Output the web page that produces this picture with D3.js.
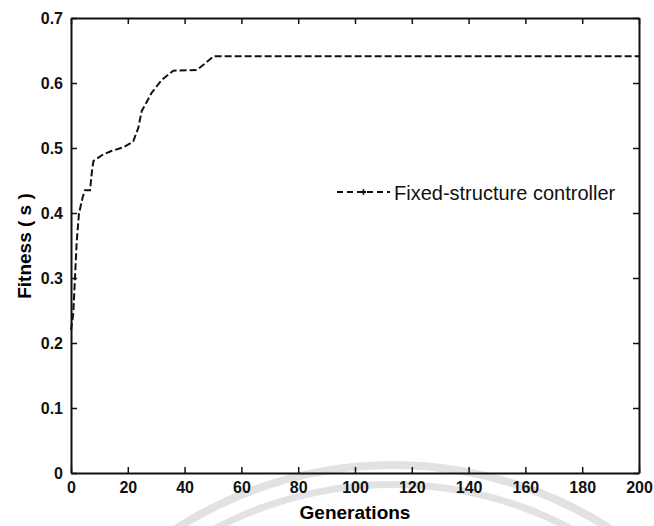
<!DOCTYPE html>
<html>
<head>
<meta charset="utf-8">
<script src="https://cdn.jsdelivr.net/npm/d3@7"></script>
<style>
	body { margin: 0; background: #fff; }
	.canvas { width: 654px; height: 526px; }
</style>
</head>
<body>
<div class="canvas"></div>
<script>
// data
var generations = [0, 0.8, 1.4, 2, 2.8, 4.1, 4.9, 6.7, 7.4, 7.9, 11.3, 14, 18.4, 21.9, 23.7, 24.9, 26.8, 28.4, 30.2, 32, 34.3, 36, 44.3, 47.5, 50.1, 200];
var fitness     = [0.22, 0.245, 0.30, 0.355, 0.399, 0.424, 0.435, 0.435, 0.465, 0.48, 0.49, 0.495, 0.501, 0.51, 0.531, 0.557, 0.572, 0.585, 0.595, 0.605, 0.613, 0.619, 0.62, 0.631, 0.641, 0.641];
var x_ticks = [0, 20, 40, 60, 80, 100, 120, 140, 160, 180, 200];
var y_ticks = [0, 0.1, 0.2, 0.3, 0.4, 0.5, 0.6, 0.7];
var series_name = "Fixed-structure controller";

var width = 654,
	height = 526;

var p_left = 71, p_right = 639, p_top = 18, p_bottom = 473;

var canvas = d3.select(".canvas")
	.append("svg")
	.attr("width", width)
	.attr("height", height);

var scale_x = d3.scaleLinear()
	.domain([0, 200])
	.range([p_left, p_right]);

var scale_y = d3.scaleLinear()
	.domain([0, 0.7])
	.range([p_bottom, p_top]);

/* ---------- faint watermark arcs ---------- */
var wm = d3.arc()
	.startAngle(-0.7)
	.endAngle(0.7);
[[378, 385], [397, 405]].forEach(function(r) {
	canvas.append("path")
		.attr("transform", "translate(393, 866)")
		.attr("d", wm.innerRadius(r[0]).outerRadius(r[1])())
		.attr("fill", "#e2e2e2");
});

/* ---------- axes ---------- */
var font = "'Liberation Sans', Arial, sans-serif";

var ax_bottom = canvas.append("g")
	.attr("transform", "translate(0," + p_bottom + ")")
	.call(d3.axisBottom(scale_x).tickValues(x_ticks).tickSizeInner(-6).tickSizeOuter(0).tickPadding(9).tickFormat(d3.format("d")));
var ax_top = canvas.append("g")
	.attr("transform", "translate(0," + p_top + ")")
	.call(d3.axisTop(scale_x).tickValues(x_ticks).tickSizeInner(-6).tickSizeOuter(0).tickFormat(""));
var ax_left = canvas.append("g")
	.attr("transform", "translate(" + p_left + ",0)")
	.call(d3.axisLeft(scale_y).tickValues(y_ticks).tickSizeInner(-6).tickSizeOuter(0).tickPadding(8).tickFormat(function(d) { return d === 0 ? "0" : d3.format(".1f")(d); }));
var ax_right = canvas.append("g")
	.attr("transform", "translate(" + p_right + ",0)")
	.call(d3.axisRight(scale_y).tickValues(y_ticks).tickSizeInner(-6).tickSizeOuter(0).tickFormat(""));

[ax_bottom, ax_top, ax_left, ax_right].forEach(function(a) {
	a.select(".domain").attr("stroke", "#111").attr("stroke-width", 2);
	a.selectAll(".tick line").attr("stroke", "#111").attr("stroke-width", 1.5);
	a.selectAll(".tick text")
		.attr("font-family", font)
		.attr("font-weight", "bold")
		.attr("font-size", 16)
		.attr("fill", "#111");
});

/* ---------- curve ---------- */
var pts = generations.map(function(g, i) { return [g, fitness[i]]; });
var line = d3.line()
	.x(function(d) { return scale_x(d[0]); })
	.y(function(d) { return scale_y(d[1]); });

canvas.append("path")
	.datum(pts)
	.attr("d", line)
	.attr("fill", "none")
	.attr("stroke", "#111")
	.attr("stroke-width", 2)
	.attr("stroke-dasharray", "7,3");

/* ---------- labels ---------- */
canvas.append("text")
	.attr("x", (p_left + p_right) / 2)
	.attr("y", 519)
	.attr("text-anchor", "middle")
	.attr("font-family", font)
	.attr("font-weight", "bold")
	.attr("font-size", 19)
	.text("Generations");

canvas.append("text")
	.attr("transform", "translate(31," + 246 + ") rotate(-90)")
	.attr("text-anchor", "middle")
	.attr("font-family", font)
	.attr("font-weight", "bold")
	.attr("font-size", 19)
	.text("Fitness ( s )");

/* ---------- legend ---------- */
var legend = canvas.append("g")
	.attr("transform", "translate(337, 192)");
legend.append("line")
	.attr("x1", 0).attr("x2", 53)
	.attr("y1", 0).attr("y2", 0)
	.attr("stroke", "#111")
	.attr("stroke-width", 2)
	.attr("stroke-dasharray", "6,4");
legend.append("path")
	.attr("transform", "translate(26.5,0)")
	.attr("d", d3.symbol(d3.symbolCross, 16)())
	.attr("fill", "#111");
legend.append("text")
	.attr("x", 57)
	.attr("y", 8)
	.attr("font-family", font)
	.attr("font-size", 20)
	.attr("fill", "#111")
	.text(series_name);
</script>
</body>
</html>
